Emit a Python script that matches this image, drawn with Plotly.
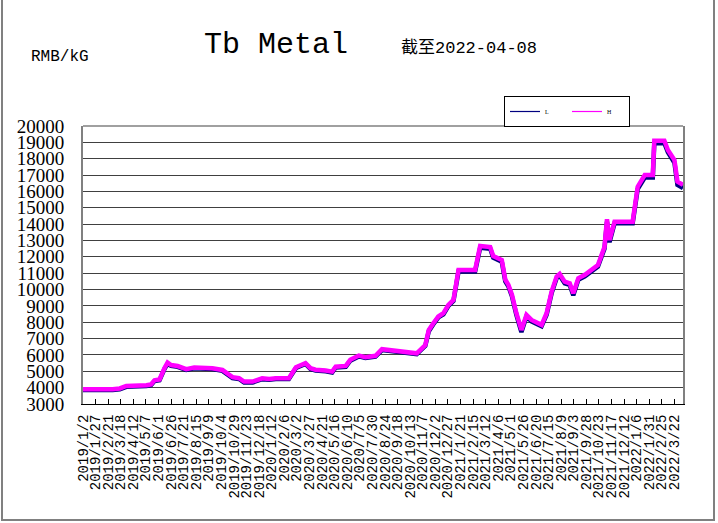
import plotly.graph_objects as go
import pandas as pd

# ---- data ----
dates = [
    "2019-01-02", "2019-02-04", "2019-03-02", "2019-03-16", "2019-03-29", "2019-05-08",
    "2019-05-17", "2019-05-24", "2019-06-03", "2019-06-13", "2019-06-19", "2019-06-26",
    "2019-07-09", "2019-07-26", "2019-08-11", "2019-09-16", "2019-10-06", "2019-10-26",
    "2019-11-08", "2019-11-18", "2019-12-05", "2019-12-24", "2020-01-07", "2020-01-20",
    "2020-02-15", "2020-02-29", "2020-03-09", "2020-03-19", "2020-03-29", "2020-04-08",
    "2020-04-28", "2020-05-11", "2020-05-18", "2020-06-07", "2020-06-16", "2020-07-03",
    "2020-07-16", "2020-08-05", "2020-08-18", "2020-08-31", "2020-09-27", "2020-10-26",
    "2020-11-12", "2020-11-19", "2020-11-28", "2020-12-08", "2020-12-18", "2020-12-28",
    "2021-01-07", "2021-01-17", "2021-02-19", "2021-03-01", "2021-03-21", "2021-03-27",
    "2021-04-13", "2021-04-20", "2021-04-26", "2021-05-03", "2021-05-12", "2021-05-22",
    "2021-06-01", "2021-06-11", "2021-07-01", "2021-07-11", "2021-07-21", "2021-07-31",
    "2021-08-06", "2021-08-16", "2021-08-26", "2021-09-02", "2021-09-12", "2021-09-25",
    "2021-10-21", "2021-10-28", "2021-11-03", "2021-11-08", "2021-11-13", "2021-11-23",
    "2021-12-29", "2022-01-08", "2022-01-22", "2022-02-07", "2022-02-10", "2022-03-02",
    "2022-03-09", "2022-03-22", "2022-03-28", "2022-04-08",
]

high = [
    3900, 3870, 3900, 3950, 4100, 4150,
    4200, 4450, 4500, 5200, 5530, 5380,
    5320, 5130, 5230, 5190, 5080, 4640,
    4580, 4370, 4370, 4570, 4530, 4580,
    4580, 5250, 5380, 5500, 5190, 5100,
    5050, 4980, 5280, 5330, 5700, 5960,
    5860, 5950, 6350, 6300, 6150, 6100,
    6600, 7530, 7940, 8350, 8550, 9060,
    9370, 11200, 11200, 12660, 12600, 12050,
    11800, 10600, 10300, 9700, 8550, 7530,
    8450, 8140, 7840, 8550, 9870, 10790,
    10950, 10480, 10380, 9770, 10690, 10900,
    11500, 12010, 12600, 14300, 13030, 14150,
    14150, 16290, 17000, 17000, 19100, 19100,
    18530, 17920, 16600, 16400,
]

low = [
    3850, 3830, 3850, 3900, 4050, 4100,
    4150, 4400, 4450, 5150, 5450, 5330,
    5270, 5080, 5180, 5140, 5030, 4590,
    4530, 4320, 4320, 4520, 4480, 4530,
    4530, 5200, 5330, 5450, 5140, 5050,
    5000, 4930, 5230, 5280, 5650, 5910,
    5810, 5900, 6300, 6250, 6100, 6050,
    6550, 7450, 7880, 8300, 8480, 9000,
    9300, 11100, 11100, 12550, 12500, 11950,
    11700, 10500, 10200, 9600, 8450, 7400,
    8350, 8050, 7750, 8450, 9780, 10700,
    10850, 10380, 10280, 9650, 10600, 10800,
    11400, 11900, 12500, 14150, 12900, 14050,
    14050, 16150, 16850, 16850, 18950, 18950,
    18400, 17750, 16400, 16200,
]

tick_labels = [
    "2019/1/2", "2019/1/27", "2019/2/21", "2019/3/18", "2019/4/12", "2019/5/7",
    "2019/6/1", "2019/6/26", "2019/7/21", "2019/8/15", "2019/9/9", "2019/10/4",
    "2019/10/29", "2019/11/23", "2019/12/18", "2020/1/12", "2020/2/6", "2020/3/2",
    "2020/3/27", "2020/4/21", "2020/5/16", "2020/6/10", "2020/7/5", "2020/7/30",
    "2020/8/24", "2020/9/18", "2020/10/13", "2020/11/7", "2020/12/2", "2020/12/27",
    "2021/1/21", "2021/2/15", "2021/3/12", "2021/4/6", "2021/5/1", "2021/5/26",
    "2021/6/20", "2021/7/15", "2021/8/9", "2021/9/3", "2021/9/28", "2021/10/23",
    "2021/11/17", "2021/12/12", "2022/1/6", "2022/1/31", "2022/2/25", "2022/3/22",
]
tick_vals = [pd.to_datetime(t, format="%Y/%m/%d").strftime("%Y-%m-%d") for t in tick_labels]

y_ticks = list(range(3000, 20001, 1000))

# ---- figure ----
W, H = 718, 523
L_M, R_M, T_M, B_M = 83, 35, 126, 119
pw, ph = W - L_M - R_M, H - T_M - B_M


def px(xp):
    return (xp - L_M) / pw


def py(yp):
    return (H - B_M - yp) / ph


fig = go.Figure()
fig.add_trace(go.Scatter(x=dates, y=low, mode="lines", name="L",
                         line=dict(color="#000080", width=4.5), showlegend=False))
fig.add_trace(go.Scatter(x=dates, y=high, mode="lines", name="H",
                         line=dict(color="#FF00FF", width=4.5), showlegend=False))
# thin legend samples
fig.add_trace(go.Scatter(x=[None], y=[None], mode="lines", name="L",
                         line=dict(color="#000080", width=1.2)))
fig.add_trace(go.Scatter(x=[None], y=[None], mode="lines", name="H",
                         line=dict(color="#FF00FF", width=1.2)))

fig.update_layout(
    width=W, height=H,
    margin=dict(l=L_M, r=R_M, t=T_M, b=B_M, autoexpand=False),
    paper_bgcolor="white", plot_bgcolor="white",
    showlegend=True,
    legend=dict(orientation="h", x=px(504), y=py(96), xanchor="left", yanchor="top",
                bordercolor="black", borderwidth=1, bgcolor="white",
                font=dict(family="Liberation Serif", size=6, color="black"),
                itemwidth=30, tracegroupgap=0, entrywidth=17, entrywidthmode="pixels"),
    xaxis=dict(type="date", range=["2019-01-02", "2022-04-08"],
               tickmode="array", tickvals=tick_vals, ticktext=tick_labels,
               tickangle=-90, ticks="inside", ticklen=5, tickcolor="black",
               tickfont=dict(family="Liberation Mono", size=14, color="black"),
               showline=True, linecolor="black", linewidth=1, showgrid=False,
               zeroline=False, ticklabelstandoff=4),
    yaxis=dict(range=[3000, 20000], tickmode="array", tickvals=y_ticks,
               ticktext=[str(v) for v in y_ticks],
               tickfont=dict(family="Liberation Serif", size=19, color="black"),
               showgrid=True, gridcolor="#404040", gridwidth=1,
               showline=True, linecolor="#808080", linewidth=2, mirror=True,
               zeroline=False, ticks="", ticklabelstandoff=13),
)

# top border of plot area
fig.add_shape(type="line", xref="paper", yref="paper", x0=0, x1=1, y0=1, y1=1,
              line=dict(color="#808080", width=1.5))
# outer chart frame
fig.add_shape(type="rect", xref="paper", yref="paper",
              x0=px(2), x1=px(714), y0=py(520), y1=py(-2),
              line=dict(color="#808080", width=2), fillcolor="rgba(0,0,0,0)", layer="below")

fig.add_annotation(text="Tb Metal", xref="paper", yref="paper", x=px(276), y=py(45),
                   xanchor="center", yanchor="middle", showarrow=False,
                   font=dict(family="Liberation Mono", size=30, color="black"))
fig.add_annotation(text="截至2022-04-08", xref="paper", yref="paper", x=px(399), y=py(48),
                   xanchor="left", yanchor="middle", showarrow=False,
                   font=dict(family="Liberation Mono, Noto Sans CJK SC", size=17, color="black"))
fig.add_annotation(text="RMB/kG", xref="paper", yref="paper", x=px(29), y=py(57),
                   xanchor="left", yanchor="middle", showarrow=False,
                   font=dict(family="Liberation Mono", size=16, color="black"))

fig.write_html("out.html", config={"displayModeBar": False},
               post_script="document.body.style.margin='0px';")
